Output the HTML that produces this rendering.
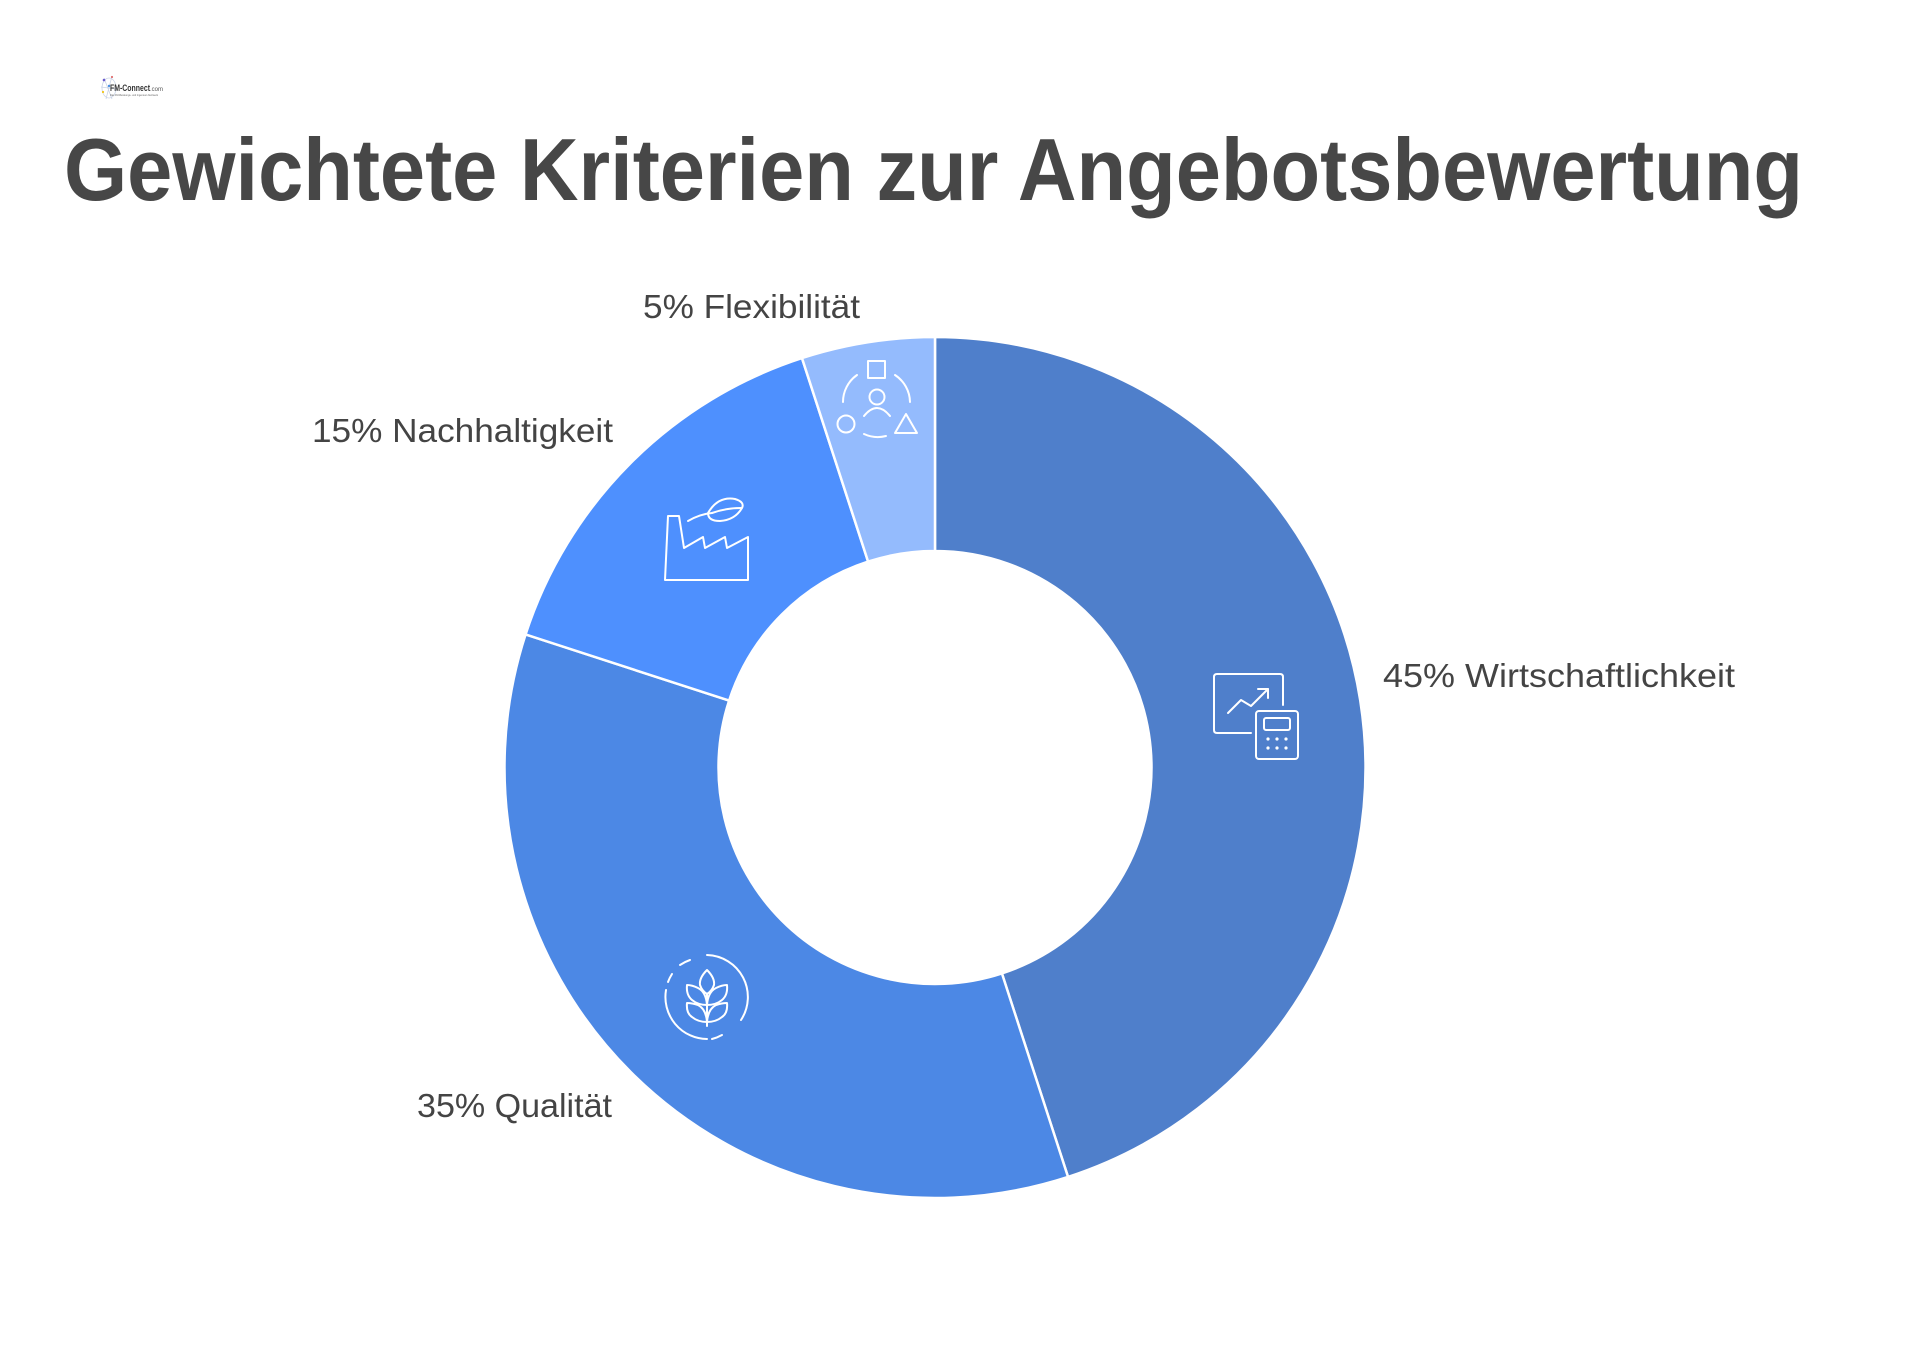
<!DOCTYPE html>
<html>
<head>
<meta charset="utf-8">
<style>
  html, body { margin: 0; padding: 0; background: #ffffff; }
  svg { display: block; }
  text { font-family: "Liberation Sans", "DejaVu Sans", sans-serif; }
</style>
</head>
<body>
<svg width="1920" height="1346" viewBox="0 0 1920 1346" xmlns="http://www.w3.org/2000/svg">
  <rect x="0" y="0" width="1920" height="1346" fill="#ffffff"/>

  <!-- Logo -->
  <g>
    <g stroke="#c9d3e6" stroke-width="0.8" fill="none">
      <line x1="104" y1="78" x2="112" y2="99"/>
      <line x1="112" y1="76" x2="106" y2="99"/>
      <line x1="101" y1="87" x2="116" y2="89"/>
      <ellipse cx="109" cy="88" rx="7" ry="10"/>
    </g>
    <circle cx="104" cy="80" r="1.3" fill="#6a5acd"/>
    <circle cx="112" cy="77" r="1.1" fill="#e07070"/>
    <circle cx="103" cy="92" r="1.1" fill="#f0c419"/>
    <circle cx="109" cy="86" r="1.2" fill="#4a90e2"/>
    <text x="110" y="91" font-size="9" font-weight="bold" fill="#333" textLength="40" lengthAdjust="spacingAndGlyphs">FM-Connect</text>
    <text x="150" y="91" font-size="6" fill="#555">.com</text>
    <text x="110" y="96" font-size="3" fill="#666" textLength="48" lengthAdjust="spacingAndGlyphs">Das FM-Beratungs- und Ingenieur-Netzwerk</text>
  </g>

  <!-- Title -->
  <text x="64" y="200" font-size="88" font-weight="bold" fill="#474747" textLength="1739" lengthAdjust="spacingAndGlyphs">Gewichtete Kriterien zur Angebotsbewertung</text>

  <!-- Donut segments -->
  <g stroke="#ffffff" stroke-width="2.5" stroke-linejoin="round">
    <path d="M 935 337 A 430.5 430.5 0 0 1 1068.03 1176.93 L 1001.90 973.40 A 216.5 216.5 0 0 0 935 551 Z" fill="#4F7FCB"/>
    <path d="M 1068.03 1176.93 A 430.5 430.5 0 0 1 525.57 634.47 L 729.10 700.60 A 216.5 216.5 0 0 0 1001.90 973.40 Z" fill="#4C88E5"/>
    <path d="M 525.57 634.47 A 430.5 430.5 0 0 1 801.97 358.07 L 868.10 561.60 A 216.5 216.5 0 0 0 729.10 700.60 Z" fill="#4E90FE"/>
    <path d="M 801.97 358.07 A 430.5 430.5 0 0 1 935 337 L 935 551 A 216.5 216.5 0 0 0 868.10 561.60 Z" fill="#94BBFD"/>
  </g>

  <!-- Icon: Wirtschaftlichkeit (chart + calculator) -->
  <g fill="none" stroke="#ffffff" stroke-width="2" stroke-linecap="round" stroke-linejoin="round">
    <path d="M 1251 733 L 1217 733 Q 1214 733 1214 730 L 1214 677 Q 1214 674 1217 674 L 1280 674 Q 1283 674 1283 677 L 1283 705"/>
    <polyline points="1228,713 1241,700 1251,706 1268,689"/>
    <polyline points="1258,689 1268,689 1268,698"/>
    <rect x="1256" y="711" width="42" height="48" rx="3"/>
    <rect x="1264" y="718" width="26" height="12" rx="2"/>
  </g>
  <g fill="#ffffff">
    <circle cx="1268" cy="739" r="1.6"/>
    <circle cx="1277" cy="739" r="1.6"/>
    <circle cx="1286" cy="739" r="1.6"/>
    <circle cx="1268" cy="748" r="1.6"/>
    <circle cx="1277" cy="748" r="1.6"/>
    <circle cx="1286" cy="748" r="1.6"/>
  </g>

  <!-- Icon: Flexibilität -->
  <g fill="none" stroke="#ffffff" stroke-width="2" stroke-linecap="round" stroke-linejoin="round">
    <rect x="868" y="361" width="17" height="17"/>
    <circle cx="877" cy="397" r="7.5"/>
    <path d="M 864 416 Q 877 400 890 416"/>
    <circle cx="846" cy="424" r="8.5"/>
    <polygon points="895,433 917,433 906,414"/>
    <path d="M 857 375 A 33 33 0 0 0 843 402"/>
    <path d="M 895 375 A 33 33 0 0 1 910 402"/>
    <path d="M 864 434 A 33 33 0 0 0 886 436"/>
  </g>

  <!-- Icon: Nachhaltigkeit (factory + leaf) -->
  <g fill="none" stroke="#ffffff" stroke-width="2" stroke-linecap="round" stroke-linejoin="round">
    <polygon points="665,580 668,516 679,516 684,548 703,537 705,548 725,537 727,548 748,537 748,580"/>
    <path d="M 688 521 Q 700 514 712 513"/>
    <path d="M 708 513 Q 718 496 735 499 Q 745 502 742 508 Q 735 520 720 521 Q 708 521 708 513 Z"/>
    <path d="M 712 513 Q 726 508 741 508"/>
  </g>

  <!-- Icon: Qualität (wheat in dashed circle) -->
  <g fill="none" stroke="#ffffff" stroke-width="2" stroke-linecap="round" stroke-linejoin="round">
    <path d="M 707 955 A 42 42 0 0 1 741 1020"/>
    <path d="M 722 1035 A 42 42 0 0 1 712 1039"/>
    <path d="M 707 1039 A 42 42 0 0 1 666 990"/>
    <path d="M 668 982 A 42 42 0 0 1 672 974"/>
    <path d="M 680 965 A 42 42 0 0 1 690 960"/>
    <path d="M 707 970 Q 699 978 700 985 Q 702 991 707 994 Q 712 991 714 985 Q 715 978 707 970 Z"/>
    <line x1="707" y1="994" x2="707" y2="1026"/>
    <path d="M 707 1005 Q 706 992 698 988 Q 692 985 687 985 Q 686 995 692 1000 Q 698 1005 707 1005 Z"/>
    <path d="M 707 1005 Q 708 992 716 988 Q 722 985 727 985 Q 728 995 722 1000 Q 716 1005 707 1005 Z"/>
    <path d="M 707 1022 Q 706 1009 698 1005 Q 692 1003 687 1003 Q 686 1013 692 1017 Q 698 1022 707 1022 Z"/>
    <path d="M 707 1022 Q 708 1009 716 1005 Q 722 1003 727 1003 Q 728 1013 722 1017 Q 716 1022 707 1022 Z"/>
  </g>

  <!-- Labels -->
  <g font-size="33" fill="#444444">
    <text x="643" y="318" textLength="217" lengthAdjust="spacingAndGlyphs">5% Flexibilität</text>
    <text x="312" y="442" textLength="301" lengthAdjust="spacingAndGlyphs">15% Nachhaltigkeit</text>
    <text x="417" y="1117" textLength="195" lengthAdjust="spacingAndGlyphs">35% Qualität</text>
    <text x="1383" y="687" textLength="352" lengthAdjust="spacingAndGlyphs">45% Wirtschaftlichkeit</text>
  </g>
</svg>
</body>
</html>
